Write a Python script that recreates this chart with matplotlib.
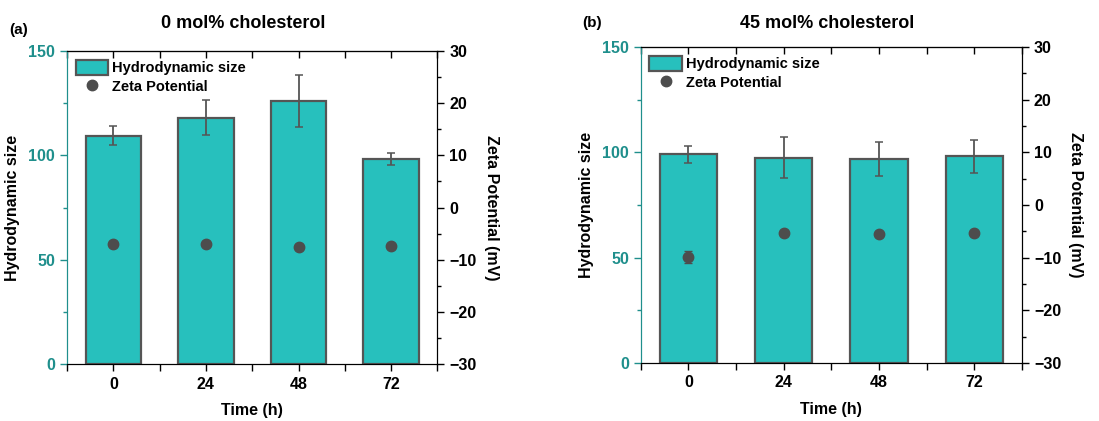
import matplotlib

matplotlib.use("Agg")
import matplotlib.pyplot as plt
from matplotlib.lines import Line2D
from matplotlib.patches import Patch
from matplotlib.ticker import MultipleLocator

plt.rcParams["font.family"] = ["Liberation Sans", "DejaVu Sans"]
plt.rcParams["font.weight"] = "bold"

times = ["0", "24", "48", "72"]

# 0 mol% cholesterol
size_a = [109.5, 118.0, 126.1, 98.3]
size_err_a = [4.5, 8.4, 12.3, 3.0]
zeta_a = [-7.0, -6.9, -7.6, -7.4]
zeta_err_a = [0.6, 0.5, 0.6, 0.5]

# 45 mol% cholesterol
size_b = [99.1, 97.5, 97.0, 98.1]
size_err_b = [3.9, 9.6, 8.0, 8.0]
zeta_b = [-9.9, -5.3, -5.6, -5.4]
zeta_err_b = [1.2, 0.5, 0.5, 0.5]

BAR = "#27c0bd"
EDGE = "#555555"
DOT = "#4d4d4d"
TEAL = "#1f8f8c"


def draw_panel(fig, rect, title, title_xy, tag, tag_xy, sizes, size_errs, zetas, zeta_errs):
    ax = fig.add_axes(rect)
    x = list(range(len(times)))
    ax.bar(x, sizes, width=0.6, color=BAR, edgecolor=EDGE, linewidth=1.6, zorder=2)
    ax.errorbar(x, sizes, yerr=size_errs, fmt="none", ecolor=EDGE, elinewidth=1.3,
                capsize=3, capthick=1.1, zorder=3)
    ax.set_xlim(-0.5, 3.5)
    ax.set_ylim(0, 150)
    ax.set_xticks(x)
    ax.set_xticklabels(times)
    ax.set_xticks([-0.5, 0.5, 1.5, 2.5, 3.5], minor=True)
    ax.yaxis.set_major_locator(MultipleLocator(50))
    ax.yaxis.set_minor_locator(MultipleLocator(25))
    ax.tick_params(axis="x", which="both", direction="out", length=5, width=1,
                   labelsize=11.5, pad=4)
    ax.tick_params(axis="y", which="major", colors=TEAL, length=5, width=1,
                   labelsize=11.5)
    ax.tick_params(axis="y", which="minor", colors=TEAL, length=3, width=1)
    ax.spines["left"].set_color(TEAL)
    ax.set_xlabel("Time (h)", fontsize=11.5, fontweight="bold", labelpad=8)
    ax.set_ylabel("Hydrodynamic size", fontsize=11.5, fontweight="bold", labelpad=6)

    # inward ticks along the top edge, no labels
    top = ax.secondary_xaxis("top")
    top.set_xticks([-0.5, 0, 0.5, 1, 1.5, 2, 2.5, 3, 3.5])
    top.tick_params(axis="x", direction="in", length=5, width=1, labeltop=False)

    ax2 = ax.twinx()
    ax2.errorbar(x, zetas, yerr=zeta_errs, fmt="o", color=DOT, markersize=7.5,
                 ecolor=DOT, elinewidth=1.2, capsize=3, zorder=4)
    ax2.set_ylim(-30, 30)
    ax2.yaxis.set_major_locator(MultipleLocator(10))
    ax2.yaxis.set_minor_locator(MultipleLocator(5))
    ax2.tick_params(axis="y", which="major", length=5, width=1, labelsize=11.5)
    ax2.tick_params(axis="y", which="minor", length=3, width=1)
    ax2.spines["left"].set_color(TEAL)
    ax2.set_ylabel("Zeta Potential (mV)", fontsize=11.5, fontweight="bold",
                   rotation=270, labelpad=16)

    handles = [
        Patch(facecolor=BAR, edgecolor=EDGE, linewidth=1.6, label="Hydrodynamic size"),
        Line2D([], [], marker="o", linestyle="none", color=DOT, markersize=7.5,
               label="Zeta Potential"),
    ]
    ax2.legend(handles=handles, loc="upper left", frameon=False,
               prop={"weight": "bold", "size": 10.5}, handlelength=2.2,
               handleheight=1.2, handletextpad=0.3, borderaxespad=0.2,
               labelspacing=0.25)
    fig.text(title_xy[0], title_xy[1], title, fontsize=13, fontweight="bold",
             ha="center", va="center")
    fig.text(tag_xy[0], tag_xy[1], tag, fontsize=11, fontweight="bold",
             ha="left", va="center")
    return ax, ax2


fig = plt.figure(figsize=(10.99, 4.21), dpi=100)
draw_panel(fig, [0.061, 0.135, 0.337, 0.744], "0 mol% cholesterol", (0.221, 0.945),
           "(a)", (0.008, 0.928), size_a, size_err_a, zeta_a, zeta_err_a)
draw_panel(fig, [0.583, 0.138, 0.347, 0.750], "45 mol% cholesterol", (0.753, 0.945),
           "(b)", (0.53, 0.945), size_b, size_err_b, zeta_b, zeta_err_b)
fig.savefig("out.png", dpi=100)
